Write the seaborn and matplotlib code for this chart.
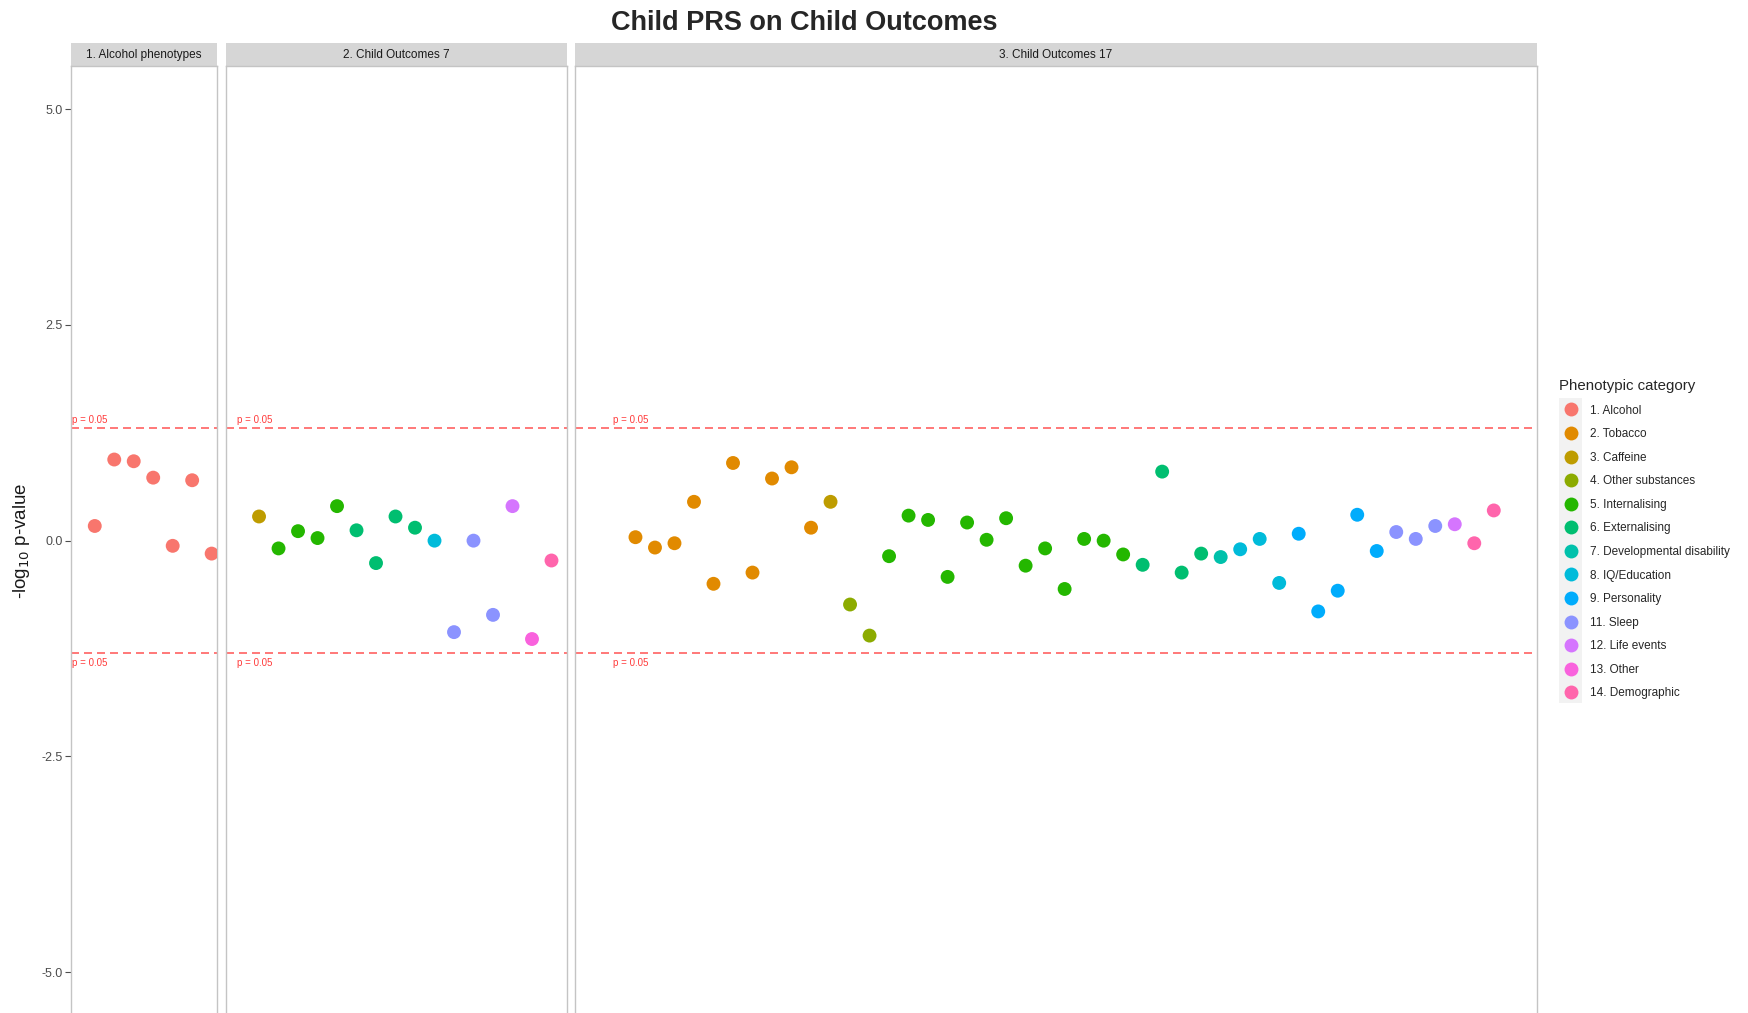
import matplotlib

matplotlib.use("Agg")
import matplotlib.pyplot as plt
import pandas as pd
import seaborn as sns
from matplotlib.lines import Line2D
from matplotlib.patches import Rectangle

categories = [
    "1. Alcohol", "2. Tobacco", "3. Caffeine", "4. Other substances",
    "5. Internalising", "6. Externalising", "7. Developmental disability",
    "8. IQ/Education", "9. Personality", "11. Sleep", "12. Life events",
    "13. Other", "14. Demographic",
]
palette = [
    "#F8766D", "#E18A00", "#BE9C00", "#8CAB00", "#24B700", "#00BE70", "#00C1AB",
    "#00BBDA", "#00ACFC", "#8B93FF", "#D575FE", "#F962DD", "#FF65AC",
]
panels = ["1. Alcohol phenotypes", "2. Child Outcomes 7", "3. Child Outcomes 17"]

panel1_values = [0.17, 0.94, 0.92, 0.73, -0.06, 0.70, -0.15]
panel1_cats = ["1. Alcohol"] * 7

panel2_values = [0.28, -0.09, 0.11, 0.03, 0.40, 0.12, -0.26, 0.28, 0.15, 0.00,
                 -1.06, 0.00, -0.86, 0.40, -1.14, -0.23]
panel2_cats = (["3. Caffeine"] + ["5. Internalising"] * 4 + ["6. Externalising"] * 4
               + ["8. IQ/Education"] + ["11. Sleep"] * 3 + ["12. Life events"]
               + ["13. Other"] + ["14. Demographic"])

panel3_values = [0.04, -0.08, -0.03, 0.45, -0.50, 0.90, -0.37, 0.72, 0.85, 0.15,
                 0.45,
                 -0.74, -1.10,
                 -0.18, 0.29, 0.24, -0.42, 0.21, 0.01, 0.26, -0.29, -0.09, -0.56,
                 0.02, 0.00, -0.16,
                 -0.28, 0.80, -0.37, -0.15,
                 -0.19,
                 -0.10, 0.02, -0.49,
                 0.08, -0.82, -0.58, 0.30, -0.12,
                 0.10, 0.02, 0.17,
                 0.19,
                 -0.03, 0.35]
panel3_cats = (["2. Tobacco"] * 10 + ["3. Caffeine"] + ["4. Other substances"] * 2
               + ["5. Internalising"] * 13 + ["6. Externalising"] * 4
               + ["7. Developmental disability"] + ["8. IQ/Education"] * 3
               + ["9. Personality"] * 5 + ["11. Sleep"] * 3 + ["12. Life events"]
               + ["14. Demographic"] * 2)

threshold = 1.301  # -log10(0.05)
yticks = [-5.0, -2.5, 0.0, 2.5, 5.0]

rows = []
for name, vals, cats in zip(panels, [panel1_values, panel2_values, panel3_values],
                            [panel1_cats, panel2_cats, panel3_cats]):
    for i, (v, c) in enumerate(zip(vals, cats)):
        rows.append({"panel": name, "idx": i, "value": v, "category": c})
df = pd.DataFrame(rows)

sns.set_style("white")
plt.rcParams["font.family"] = ["Liberation Sans", "DejaVu Sans"]

W, H = 1749, 1013
fig = plt.figure(figsize=(W / 100, H / 100), dpi=100)

# pixel extents of the three facets
boxes = [(71, 146.3), (225.7, 341.0), (575, 961.7)]
xlims = [(-1.22, 6.29), (-1.71, 15.78), (-3.1, 46.2)]
top_px, bottom_px = 66, 1015.3
pal = dict(zip(categories, palette))

for k, (name, (x0, w), xl) in enumerate(zip(panels, boxes, xlims)):
    ax = fig.add_axes([x0 / W, 1 - bottom_px / H, w / W, (bottom_px - top_px) / H])
    sub = df[df["panel"] == name]
    sns.scatterplot(data=sub, x="idx", y="value", hue="category", hue_order=categories,
                    palette=pal, s=100, linewidth=0, legend=False, ax=ax, zorder=3)
    for yv in (threshold, -threshold):
        ax.axhline(yv, color="#FF4545", alpha=0.85, lw=1.2, ls=(0, (4.8, 3)), zorder=2)
    ax.text(-1.15, threshold + 0.04, "p = 0.05", color="#FF3B3B", fontsize=7,
            ha="left", va="bottom")
    ax.text(-1.15, -threshold - 0.06, "p = 0.05", color="#FF3B3B", fontsize=7,
            ha="left", va="top")
    ax.set_xlim(*xl)
    ax.set_ylim(-5.5, 5.5)
    ax.set_xlabel("")
    ax.set_ylabel("")
    ax.set_xticks([])
    for sp in ax.spines.values():
        sp.set_color("#C4C4C4")
        sp.set_linewidth(1.0)
    if k == 0:
        ax.set_yticks(yticks)
        ax.set_yticklabels([f"{t:.1f}" for t in yticks], fontsize=9, color="#4D4D4D")
        ax.tick_params(axis="y", length=4, width=0.8, color="#4D4D4D", left=True, pad=2)
    else:
        ax.set_yticks([])
    # facet strip
    sh = 23 / (bottom_px - top_px)
    ax.add_patch(Rectangle((0, 1), 1, sh, transform=ax.transAxes, clip_on=False,
                           facecolor="#D6D6D6", edgecolor="none"))
    ax.text(0.5, 1 + sh / 2, name, transform=ax.transAxes, ha="center", va="center",
            fontsize=8.5, color="#1A1A1A")

fig.text(804 / W, 1 - 23.5 / H, "Child PRS on Child Outcomes", ha="center", va="center",
         fontsize=19.5, fontweight="bold")
fig.text(22 / W, 1 - 541 / H, "-log$_{10}$ p-value", rotation=90, ha="center",
         va="center", fontsize=13.5, color="#1A1A1A")

# legend with grey key column
fig.patches.append(Rectangle((1559 / W, 1 - 703 / H), 23 / W, 305 / H,
                             transform=fig.transFigure, facecolor="#F2F2F2",
                             edgecolor="none", zorder=0))
handles = [Line2D([0], [0], marker="o", ls="", markersize=10, markerfacecolor=c,
                  markeredgewidth=0) for c in palette]
fig.legend(handles, categories, title="Phenotypic category", loc="upper left",
           bbox_to_anchor=(1559 / W, 1 - 379 / H), frameon=False, fontsize=8.5,
           title_fontsize=10.8, borderpad=0, borderaxespad=0, handlelength=2.0,
           handletextpad=0.6, labelspacing=0.98, alignment="left")

fig.savefig("out.png", dpi=100)
plt.close(fig)
